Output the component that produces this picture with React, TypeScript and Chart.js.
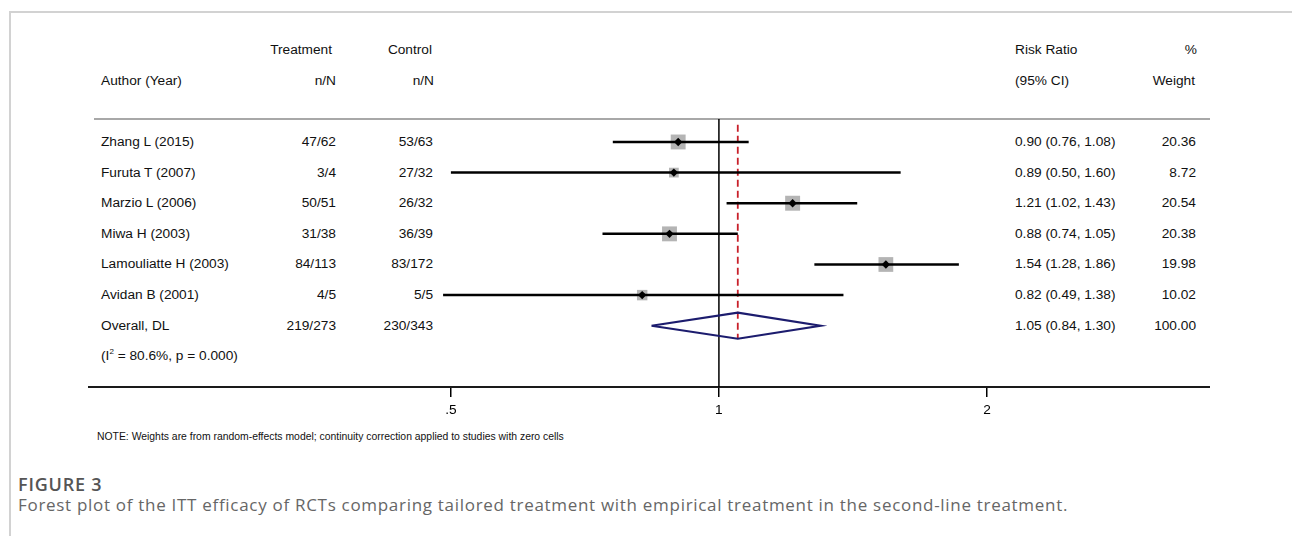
import React, { useEffect, useRef } from "react";
import { Chart, registerables } from "chart.js";

Chart.register(...registerables);

// ---------- data ----------
const authors = [
  "Zhang L (2015)",
  "Furuta T (2007)",
  "Marzio L (2006)",
  "Miwa H (2003)",
  "Lamouliatte H (2003)",
  "Avidan B (2001)",
];
const treatmentNN = ["47/62", "3/4", "50/51", "31/38", "84/113", "4/5"];
const controlNN = ["53/63", "27/32", "26/32", "36/39", "83/172", "5/5"];
const riskRatio = [0.9, 0.89, 1.21, 0.88, 1.54, 0.82];
const ciLower = [0.76, 0.5, 1.02, 0.74, 1.28, 0.49];
const ciUpper = [1.08, 1.6, 1.43, 1.05, 1.86, 1.38];
const weights = [20.36, 8.72, 20.54, 20.38, 19.98, 10.02];

const overallLabel = "Overall, DL";
const overallTreatment = "219/273";
const overallControl = "230/343";
const overallRR = 1.05;
const overallLower = 0.84;
const overallUpper = 1.3;
const overallWeight = 100.0;
const heterogeneityI2 = "80.6%";
const heterogeneityP = "0.000";

const xTicks = [0.5, 1, 2];
const xTickLabels = [".5", "1", "2"];

// ---------- layout constants ----------
const W = 1292;
const H = 536;
const PLOT_LEFT = 88;
const PLOT_RIGHT = 1210;
const PLOT_TOP = 119;
const AXIS_Y = 387;
const CANVAS_H = 301;
const AXIS_H = CANVAS_H - (AXIS_Y - PLOT_TOP);
const Y_MIN = -0.75;
const Y_MAX = 8.0;
const AXIS_MIN = 0.1956;
const AXIS_MAX = 3.561;
const ROW_H = (AXIS_Y - PLOT_TOP) / (Y_MAX - Y_MIN);
const rowY = (i: number) => PLOT_TOP + (i - Y_MIN) * ROW_H;
const BOX_SCALE = 3.3;
const DIAMOND_H = 0.425;

const FONT = '"Liberation Sans", Arial, Helvetica, sans-serif';
const FS = 13.7;

type TxtProps = {
  x: number;
  y: number;
  align?: "left" | "right";
  children: React.ReactNode;
  style?: React.CSSProperties;
};

function Txt({ x, y, align = "left", children, style }: TxtProps) {
  return (
    <div
      style={{
        position: "absolute",
        left: x,
        top: y - 10,
        height: 20,
        lineHeight: "20px",
        whiteSpace: "nowrap",
        transform: align === "right" ? "translateX(-100%)" : undefined,
        fontFamily: FONT,
        fontSize: FS,
        color: "#111",
        ...style,
      }}
    >
      {children}
    </div>
  );
}

export default function App() {
  const canvasRef = useRef<HTMLCanvasElement | null>(null);

  useEffect(() => {
    const canvas = canvasRef.current;
    if (!canvas) return;
    const n = riskRatio.length;

    const whiskers = riskRatio.map((_, i) => ({
      label: "ci-" + i,
      data: [
        { x: ciLower[i], y: i },
        { x: ciUpper[i], y: i },
      ],
      showLine: true,
      borderColor: "#000",
      borderWidth: 2.5,
      pointRadius: 0,
      order: 2,
    }));

    const datasets: any[] = [
      {
        label: "null",
        data: [
          { x: 1, y: Y_MIN },
          { x: 1, y: Y_MAX },
        ],
        showLine: true,
        borderColor: "#000",
        borderWidth: 1.5,
        pointRadius: 0,
        order: 6,
      },
      {
        label: "overall-line",
        data: [
          { x: overallRR, y: -0.56 },
          { x: overallRR, y: n + DIAMOND_H },
        ],
        showLine: true,
        borderColor: "#c8202a",
        borderWidth: 1.8,
        borderDash: [7, 4],
        pointRadius: 0,
        order: 5,
      },
      {
        label: "boxes",
        data: riskRatio.map((v, i) => ({ x: v, y: i })),
        pointStyle: "rect",
        pointRadius: weights.map((w) => (BOX_SCALE * Math.sqrt(w)) / Math.SQRT2),
        backgroundColor: "#b4b4b4",
        borderWidth: 0,
        order: 4,
      },
      ...whiskers,
      {
        label: "overall",
        data: [
          { x: overallLower, y: n },
          { x: overallRR, y: n - DIAMOND_H },
          { x: overallUpper, y: n },
          { x: overallRR, y: n + DIAMOND_H },
          { x: overallLower, y: n },
        ],
        showLine: true,
        borderColor: "#1c1c6e",
        borderWidth: 2.2,
        pointRadius: 0,
        fill: false,
        order: 1,
      },
      {
        label: "points",
        data: riskRatio.map((v, i) => ({ x: v, y: i })),
        pointStyle: "rectRot",
        pointRadius: 4.2,
        backgroundColor: "#000",
        borderWidth: 0,
        order: 0,
      },
    ];

    const chart = new Chart(canvas, {
      type: "scatter",
      data: { datasets },
      options: {
        animation: false,
        responsive: false,
        devicePixelRatio: 1,
        events: [],
        layout: { padding: 0, autoPadding: false },
        plugins: { legend: { display: false }, tooltip: { enabled: false } },
        scales: {
          x: {
            type: "logarithmic",
            min: AXIS_MIN,
            max: AXIS_MAX,
            afterBuildTicks: (s: any) => {
              s.ticks = xTicks.map((v) => ({ value: v }));
            },
            afterFit: (s: any) => {
              s.height = AXIS_H;
            },
            ticks: {
              autoSkip: false,
              maxRotation: 0,
              padding: 5,
              color: "#000",
              font: { family: FONT, size: FS },
              callback: (value: any) => {
                const idx = xTicks.indexOf(Number(value));
                return idx >= 0 ? xTickLabels[idx] : "";
              },
            },
            grid: {
              drawOnChartArea: false,
              drawTicks: true,
              tickLength: 10,
              color: "#000",
              lineWidth: 1.5,
            },
            border: { display: true, color: "#1a1a1a", width: 2 },
          },
          y: {
            type: "linear",
            reverse: true,
            min: Y_MIN,
            max: Y_MAX,
            display: false,
          },
        },
      } as any,
    });
    return () => chart.destroy();
  }, []);

  const n = riskRatio.length;
  const fmtCI = (r: number, l: number, u: number) =>
    `${r.toFixed(2)} (${l.toFixed(2)}, ${u.toFixed(2)})`;

  return (
    <div
      style={{
        position: "absolute",
        left: 0,
        top: 0,
        width: W,
        height: H,
        background: "#fff",
        overflow: "hidden",
      }}
    >
      {/* frame */}
      <div style={{ position: "absolute", left: 9, top: 11, width: W - 9, height: 2, background: "#d2d2d2" }} />
      <div style={{ position: "absolute", left: 9, top: 11, width: 2, height: H - 11, background: "#d2d2d2" }} />

      {/* headers */}
      <Txt x={332} y={50} align="right">Treatment</Txt>
      <Txt x={432} y={50} align="right">Control</Txt>
      <Txt x={1015} y={50}>Risk Ratio</Txt>
      <Txt x={1197} y={50} align="right">%</Txt>
      <Txt x={101} y={81}>Author (Year)</Txt>
      <Txt x={336} y={81} align="right">n/N</Txt>
      <Txt x={434} y={81} align="right">n/N</Txt>
      <Txt x={1015} y={81}>(95% CI)</Txt>
      <Txt x={1195} y={81} align="right">Weight</Txt>

      {/* separator */}
      <div style={{ position: "absolute", left: 94, top: PLOT_TOP - 1, width: PLOT_RIGHT - 94, height: 2, background: "#a8a8a8" }} />

      {/* study rows */}
      {authors.map((a, i) => (
        <React.Fragment key={a}>
          <Txt x={101} y={rowY(i)}>{a}</Txt>
          <Txt x={336} y={rowY(i)} align="right">{treatmentNN[i]}</Txt>
          <Txt x={433} y={rowY(i)} align="right">{controlNN[i]}</Txt>
          <Txt x={1015} y={rowY(i)}>{fmtCI(riskRatio[i], ciLower[i], ciUpper[i])}</Txt>
          <Txt x={1196} y={rowY(i)} align="right">{weights[i].toFixed(2)}</Txt>
        </React.Fragment>
      ))}
      <Txt x={101} y={rowY(n)}>{overallLabel}</Txt>
      <Txt x={336} y={rowY(n)} align="right">{overallTreatment}</Txt>
      <Txt x={433} y={rowY(n)} align="right">{overallControl}</Txt>
      <Txt x={1015} y={rowY(n)}>{fmtCI(overallRR, overallLower, overallUpper)}</Txt>
      <Txt x={1196} y={rowY(n)} align="right">{overallWeight.toFixed(2)}</Txt>
      <Txt x={101} y={rowY(n + 1)}>
        (I<sup style={{ fontSize: 8, verticalAlign: "6px", lineHeight: 0 }}>2</sup> = {heterogeneityI2}, p = {heterogeneityP})
      </Txt>

      {/* chart */}
      <canvas
        ref={canvasRef}
        width={PLOT_RIGHT - PLOT_LEFT}
        height={CANVAS_H}
        style={{
          position: "absolute",
          left: PLOT_LEFT,
          top: PLOT_TOP,
          width: PLOT_RIGHT - PLOT_LEFT,
          height: CANVAS_H,
        }}
      />

      {/* note */}
      <Txt x={97} y={437} style={{ fontSize: 10.4, color: "#111" }}>
        NOTE: Weights are from random-effects model; continuity correction applied to studies with zero cells
      </Txt>

      {/* caption */}
      <div
        style={{
          position: "absolute",
          left: 18,
          top: 474,
          fontFamily: '"Open Sans", "Noto Sans", sans-serif',
          fontWeight: 600,
          fontSize: 18,
          letterSpacing: "0.8px",
          lineHeight: "20px",
          color: "#555",
          whiteSpace: "nowrap",
        }}
      >
        FIGURE 3
      </div>
      <div
        style={{
          position: "absolute",
          left: 18,
          top: 495,
          fontFamily: '"Open Sans", "Noto Sans", sans-serif',
          fontSize: 17,
          letterSpacing: "0.7px",
          lineHeight: "20px",
          color: "#666",
          whiteSpace: "nowrap",
        }}
      >
        Forest plot of the ITT efficacy of RCTs comparing tailored treatment with empirical treatment in the second-line treatment.
      </div>
    </div>
  );
}
